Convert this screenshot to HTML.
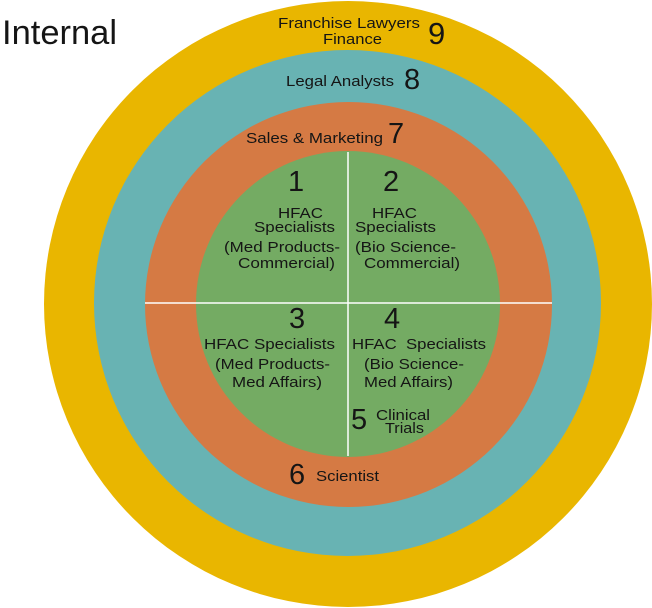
<!DOCTYPE html>
<html><head><meta charset="utf-8"><style>
html,body{margin:0;padding:0;background:#fff;width:652px;height:608px;overflow:hidden}
svg{display:block}
text{font-family:"Liberation Sans",Arial,sans-serif;fill:#151515}
</style></head><body>
<svg width="652" height="608" viewBox="0 0 652 608" xmlns="http://www.w3.org/2000/svg">
<ellipse cx="348" cy="304" rx="304" ry="303" fill="#E9B600"/>
<ellipse cx="347.5" cy="303" rx="253.5" ry="253" fill="#68B3B3"/>
<ellipse cx="348.5" cy="304.5" rx="203.5" ry="202.5" fill="#D57A44"/>
<ellipse cx="348" cy="304" rx="152" ry="153" fill="#74AB63"/>
<line x1="145" y1="303" x2="552" y2="303" stroke="#fff" stroke-width="1.5"/>
<line x1="348" y1="152" x2="348" y2="456" stroke="#fff" stroke-width="1.5"/>

<g lengthAdjust="spacingAndGlyphs">
<text x="2" y="44" font-size="34" textLength="115" lengthAdjust="spacingAndGlyphs">Internal</text>
<text x="278" y="28" font-size="15" textLength="142" lengthAdjust="spacingAndGlyphs">Franchise Lawyers</text>
<text x="323" y="44" font-size="15" textLength="59" lengthAdjust="spacingAndGlyphs">Finance</text>
<text x="428" y="44" font-size="31">9</text>
<text x="286" y="86" font-size="15" textLength="108" lengthAdjust="spacingAndGlyphs">Legal Analysts</text>
<text x="404" y="89" font-size="29">8</text>
<text x="246" y="143" font-size="15" textLength="137" lengthAdjust="spacingAndGlyphs">Sales &amp; Marketing</text>
<text x="388" y="143" font-size="29">7</text>

<text x="288" y="191" font-size="29">1</text>
<text x="383" y="191" font-size="29">2</text>
<text x="289" y="328" font-size="29">3</text>
<text x="384" y="328" font-size="29">4</text>
<text x="351" y="429" font-size="29">5</text>
<text x="289" y="484" font-size="29">6</text>

<g font-size="15">
<text x="278" y="218" textLength="45" lengthAdjust="spacingAndGlyphs">HFAC</text>
<text x="254" y="232" textLength="81" lengthAdjust="spacingAndGlyphs">Specialists</text>
<text x="224" y="252" textLength="116" lengthAdjust="spacingAndGlyphs">(Med Products-</text>
<text x="238" y="268" textLength="97" lengthAdjust="spacingAndGlyphs">Commercial)</text>

<text x="372" y="218" textLength="45" lengthAdjust="spacingAndGlyphs">HFAC</text>
<text x="355" y="232" textLength="81" lengthAdjust="spacingAndGlyphs">Specialists</text>
<text x="355" y="252" textLength="101" lengthAdjust="spacingAndGlyphs">(Bio Science-</text>
<text x="364" y="268" textLength="96" lengthAdjust="spacingAndGlyphs">Commercial)</text>

<text x="204" y="349" textLength="131" lengthAdjust="spacingAndGlyphs">HFAC Specialists</text>
<text x="215" y="369" textLength="115" lengthAdjust="spacingAndGlyphs">(Med Products-</text>
<text x="232" y="387" textLength="90" lengthAdjust="spacingAndGlyphs">Med Affairs)</text>

<text x="352" y="349" textLength="134" lengthAdjust="spacingAndGlyphs" xml:space="preserve">HFAC  Specialists</text>
<text x="364" y="369" textLength="100" lengthAdjust="spacingAndGlyphs">(Bio Science-</text>
<text x="364" y="387" textLength="89" lengthAdjust="spacingAndGlyphs">Med Affairs)</text>

<text x="376" y="420" textLength="54" lengthAdjust="spacingAndGlyphs">Clinical</text>
<text x="385" y="433" textLength="39" lengthAdjust="spacingAndGlyphs">Trials</text>
<text x="316" y="481" textLength="63" lengthAdjust="spacingAndGlyphs">Scientist</text>
</g>
</g>
</svg>
</body></html>
